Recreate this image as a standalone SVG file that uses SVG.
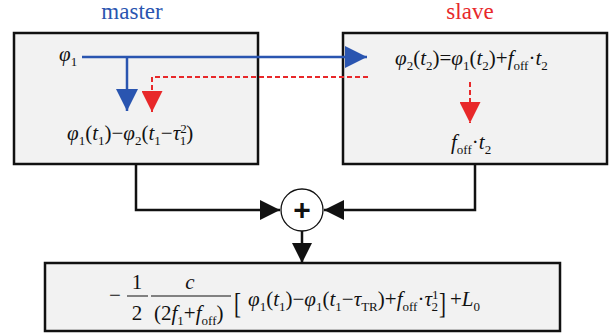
<svg xmlns="http://www.w3.org/2000/svg" width="613" height="336" viewBox="0 0 613 336">
<defs>
<style>
.box{fill:#f2f2f2;stroke:#111;stroke-width:2.5}
.m{font-family:"Liberation Serif","DejaVu Serif",serif;font-size:21px;fill:#111}
.i{font-style:italic}
.s{font-size:13px}
.lbl{font-family:"Liberation Serif","DejaVu Serif",serif;font-size:23px}
.conn{fill:none;stroke:#111;stroke-width:2.5}
</style>
<marker id="ab" viewBox="0 0 20 20" refX="20" refY="10" markerWidth="20" markerHeight="20" markerUnits="userSpaceOnUse" orient="auto"><path d="M0,0L20,10L0,20Z" fill="#111"/></marker>
<marker id="abl" viewBox="0 0 20 20" refX="20" refY="10" markerWidth="22" markerHeight="22" markerUnits="userSpaceOnUse" orient="auto"><path d="M0,0L20,10L0,20Z" fill="#2a55b0"/></marker>
<marker id="ard" viewBox="0 0 20 20" refX="20" refY="10" markerWidth="21" markerHeight="21" markerUnits="userSpaceOnUse" orient="auto"><path d="M0,0L20,10L0,20Z" fill="#e8282a"/></marker>
</defs>
<text class="lbl" x="132" y="19" text-anchor="middle" fill="#2a55b0">master</text>
<text class="lbl" x="470" y="19" text-anchor="middle" fill="#e8282a">slave</text>
<g id="master">
<rect class="box" x="14" y="33" width="244" height="131"/>
<text class="m" x="59" y="61"><tspan class="i">φ</tspan><tspan class="s" dy="5">1</tspan></text>
<text class="m" x="67" y="140"><tspan class="i">φ</tspan><tspan class="s" dy="5">1</tspan><tspan dy="-5">(</tspan><tspan class="i">t</tspan><tspan class="s" dy="5">1</tspan><tspan dy="-5">)−</tspan><tspan class="i">φ</tspan><tspan class="s" dy="5">2</tspan><tspan dy="-5">(</tspan><tspan class="i">t</tspan><tspan class="s" dy="5">1</tspan><tspan dy="-5">−</tspan><tspan class="i">τ</tspan><tspan class="s" dy="-7">2</tspan><tspan class="s" dx="-7" dy="12">1</tspan><tspan dy="-5">)</tspan></text>
</g>
<g id="slave">
<rect class="box" x="343" y="33" width="264" height="131"/>
<text class="m" x="395" y="65"><tspan class="i">φ</tspan><tspan class="s" dy="5">2</tspan><tspan dy="-5">(</tspan><tspan class="i">t</tspan><tspan class="s" dy="5">2</tspan><tspan dy="-5">)=</tspan><tspan class="i">φ</tspan><tspan class="s" dy="5">1</tspan><tspan dy="-5">(</tspan><tspan class="i">t</tspan><tspan class="s" dy="5">2</tspan><tspan dy="-5">)+</tspan><tspan class="i">f</tspan><tspan class="s" dy="5">off</tspan><tspan dy="-5">·</tspan><tspan class="i">t</tspan><tspan class="s" dy="5">2</tspan></text>
<text class="m" x="451" y="149"><tspan class="i">f</tspan><tspan class="s" dy="5">off</tspan><tspan dy="-5">·</tspan><tspan class="i">t</tspan><tspan class="s" dy="5">2</tspan></text>
</g>
<g id="sum">
<circle cx="302" cy="210" r="21" fill="#fff" stroke="#111" stroke-width="1.3"/>
<text x="302" y="220" text-anchor="middle" font-family="'Liberation Sans',Arial,sans-serif" font-size="30" font-weight="bold" fill="#111">+</text>
</g>
<g id="result">
<rect class="box" x="45" y="263" width="515" height="68"/>
<text class="m" x="109" y="302">−</text>
<text class="m" x="137" y="289" text-anchor="middle">1</text>
<text class="m" x="137" y="320" text-anchor="middle">2</text>
<line x1="127" y1="296" x2="148" y2="296" stroke="#111" stroke-width="1"/>
<text class="m i" x="190" y="289" text-anchor="middle">c</text>
<line x1="151" y1="296" x2="231" y2="296" stroke="#111" stroke-width="1"/>
<text class="m" x="154" y="320">(2<tspan class="i">f</tspan><tspan class="s" dy="5">1</tspan><tspan dy="-5">+</tspan><tspan class="i">f</tspan><tspan class="s" dy="5">off</tspan><tspan dy="-5">)</tspan></text>
<text class="m" transform="translate(234,313) scale(1,1.45)" font-size="24">[</text>
<text class="m" x="248" y="306"><tspan class="i">φ</tspan><tspan class="s" dy="5">1</tspan><tspan dy="-5">(</tspan><tspan class="i">t</tspan><tspan class="s" dy="5">1</tspan><tspan dy="-5">)−</tspan><tspan class="i">φ</tspan><tspan class="s" dy="5">1</tspan><tspan dy="-5">(</tspan><tspan class="i">t</tspan><tspan class="s" dy="5">1</tspan><tspan dy="-5">−</tspan><tspan class="i">τ</tspan><tspan class="s" dy="5">TR</tspan><tspan dy="-5">)+</tspan><tspan class="i">f</tspan><tspan class="s" dy="5">off</tspan><tspan dy="-5">·</tspan><tspan class="i">τ</tspan><tspan class="s" dy="-7">1</tspan><tspan class="s" dx="-7" dy="12">2</tspan></text>
<text class="m" transform="translate(439,313) scale(1,1.45)" font-size="24">]</text>
<text class="m" x="450" y="306">+<tspan class="i">L</tspan><tspan class="s" dy="5">0</tspan></text>
</g>
<g id="connectors">
<path d="M82,57H367" stroke="#2a55b0" stroke-width="2.5" fill="none" marker-end="url(#abl)"/>
<path d="M127,57V111" stroke="#2a55b0" stroke-width="2.5" fill="none" marker-end="url(#abl)"/>
<path d="M368,77H152V112" stroke="#e8282a" stroke-width="2" stroke-dasharray="5,3" fill="none"/>
<path d="M152,95V112" stroke="#e8282a" stroke-width="2" fill="none" marker-end="url(#ard)"/>
<path d="M470,82V123" stroke="#e8282a" stroke-width="2" stroke-dasharray="5,3" fill="none"/>
<path d="M470,102V123" stroke="none" fill="none" marker-end="url(#ard)"/>
<path class="conn" d="M136,164V210H280" marker-end="url(#ab)"/>
<path class="conn" d="M475,164V210H324" marker-end="url(#ab)"/>
<path class="conn" d="M302,231V263" marker-end="url(#ab)"/>
</g>
</svg>
